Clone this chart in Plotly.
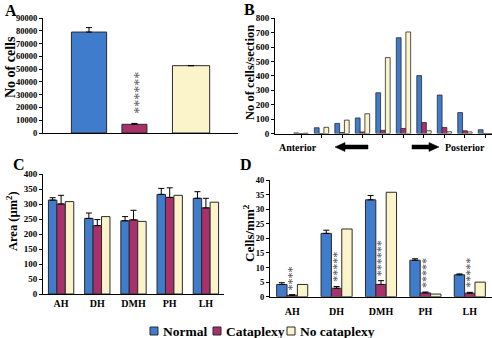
import plotly.graph_objects as go

W, H = 492, 338
FONT = "Liberation Serif"

# ---------------- data ----------------
groups_A = ["Normal", "Cataplexy", "No cataplexy"]
total_cells = [79000, 6800, 52700]
total_err = [3500, 700, 0]

sections_B = ["1", "2", "3", "4", "5", "6", "7", "8", "9", "10"]
normal_B = [4, 40, 70, 108, 283, 665, 402, 267, 145, 26]
cataplexy_B = [0, 0, 7, 11, 22, 35, 76, 42, 19, 0]
nocat_B = [2, 43, 93, 137, 527, 705, 19, 12, 11, 0]

regions = ["AH", "DH", "DMH", "PH", "LH"]
area_normal = [313, 252, 244, 332, 319]
area_normal_err = [8, 18, 14, 20, 22]
area_cat = [300, 228, 247, 322, 287]
area_cat_err = [29, 20, 32, 32, 32]
area_nocat = [308, 258, 242, 329, 306]

dens_normal = [4.2, 21.7, 33.2, 12.5, 7.5]
dens_normal_err = [0.6, 1.1, 1.5, 0.5, 0.3]
dens_cat = [0.5, 2.9, 4.2, 1.3, 1.2]
dens_cat_err = [0.2, 0.6, 1.3, 0.3, 0.3]
dens_nocat = [4.2, 23.2, 35.8, 0.9, 5.0]
dens_stars = [4, 5, 6, 5, 5]

series_names = ["Normal", "Cataplexy", "No cataplexy"]
COLORS = ["#3f7dcc", "#a8316c", "#fbf4cb"]
EDGE = "#2a2a2a"
# legend layout (pixel left edge of each key square)
legend_square_x = [150, 213, 287]


def px_x(p):
    return p / W


def px_y(p):
    return 1 - p / H


fig = go.Figure()

# ---------------- Panel A ----------------
widths_A = [0.69, 0.49, 0.73]
offsets_A = [-0.345, -0.355, -0.365]
fig.add_trace(go.Bar(
    x=[0, 1, 2], y=total_cells, width=widths_A, offset=offsets_A,
    marker=dict(color=COLORS, line=dict(color=EDGE, width=1)),
    error_y=dict(type="data", array=total_err, symmetric=False, arrayminus=[0, 0, 0],
                 color="black", thickness=1, width=3),
    showlegend=False, xaxis="x", yaxis="y", hoverinfo="skip"))

# ---------------- Panel B ----------------
for vals, name, col in zip([normal_B, cataplexy_B, nocat_B], series_names, COLORS):
    fig.add_trace(go.Bar(
        x=sections_B, y=vals, name=name,
        marker=dict(color=col, line=dict(color=EDGE, width=0.8)),
        showlegend=False, xaxis="x2", yaxis="y2", hoverinfo="skip"))

# ---------------- Panel C ----------------
for vals, err, name, col in zip([area_normal, area_cat, area_nocat],
                                [area_normal_err, area_cat_err, None],
                                series_names, COLORS):
    fig.add_trace(go.Bar(
        x=regions, y=vals, name=name,
        marker=dict(color=col, line=dict(color=EDGE, width=1)),
        error_y=(dict(type="data", array=err, symmetric=False, arrayminus=[0] * 5,
                      color="black", thickness=1, width=3) if err else None),
        showlegend=False, xaxis="x3", yaxis="y3", hoverinfo="skip"))

# ---------------- Panel D ----------------
for vals, err, name, col in zip([dens_normal, dens_cat, dens_nocat],
                                [dens_normal_err, dens_cat_err, None],
                                series_names, COLORS):
    fig.add_trace(go.Bar(
        x=regions, y=vals, name=name,
        marker=dict(color=col, line=dict(color=EDGE, width=1)),
        error_y=(dict(type="data", array=err, symmetric=False, arrayminus=[0] * 5,
                      color="black", thickness=1, width=3) if err else None),
        showlegend=False, xaxis="x4", yaxis="y4", hoverinfo="skip"))

tickfont = dict(family=FONT, size=9, color="black", weight="bold")
axis_common = dict(showline=True, linecolor="black", linewidth=1, showgrid=False,
                   zeroline=False, ticks="outside", ticklen=3, tickcolor="black",
                   tickformat="d", tickfont=tickfont, fixedrange=True, automargin=False)
xcommon = dict(showline=True, linecolor="black", linewidth=1, showgrid=False,
               zeroline=False, fixedrange=True, automargin=False)

layout = dict(
    width=W, height=H, margin=dict(l=0, r=0, t=0, b=0, autoexpand=False),
    paper_bgcolor="white", plot_bgcolor="white", showlegend=False,
    barmode="group", bargap=0.3, bargroupgap=0,
    font=dict(family=FONT, color="black"),
    xaxis=dict(domain=[px_x(43), px_x(238)], range=[-0.902, 2.92],
               showticklabels=False, ticks="", anchor="y", **xcommon),
    yaxis=dict(domain=[px_y(133), px_y(18)], range=[0, 90000], dtick=10000,
               anchor="x", **{**axis_common, "tickfont": dict(family=FONT, size=8.5,
                                                              color="black", weight="bold")}),
    xaxis2=dict(domain=[px_x(275), 1.0], range=[-1.27, 9.32], showticklabels=False,
                ticks="outside", ticklen=3, tickcolor="black", anchor="y2", **xcommon),
    yaxis2=dict(domain=[px_y(133.5), px_y(18.3)], range=[0, 800], dtick=100,
                anchor="x2", **axis_common),
    xaxis3=dict(domain=[px_x(43), px_x(224)], ticks="",
                tickfont=dict(family=FONT, size=10, color="black", weight="bold"),
                anchor="y3", **xcommon),
    yaxis3=dict(domain=[px_y(294), px_y(174)], range=[0, 400], dtick=50,
                anchor="x3", **axis_common),
    xaxis4=dict(domain=[px_x(270), 1.0], ticks="", ticklabelstandoff=5,
                tickfont=dict(family=FONT, size=10, color="black", weight="bold"),
                anchor="y4", **xcommon),
    yaxis4=dict(domain=[px_y(296.7), px_y(180)], range=[0, 40], dtick=5,
                anchor="x4", **{**axis_common, "tickfont": dict(family=FONT, size=8.5,
                                                               color="black", weight="bold")}),
)
fig.update_layout(**layout)

ann = []
shapes = []


def label(text, x, y, size, angle=0, xanchor="center"):
    ann.append(dict(text=text, x=px_x(x), y=px_y(y), xref="paper", yref="paper",
                    xanchor=xanchor, yanchor="middle", textangle=angle, showarrow=False,
                    font=dict(family=FONT, size=size, color="black", weight="bold")))


def arrow(tip, tail, yc):
    # thick block arrow drawn in pixel space, converted to paper coords
    d = 1 if tail > tip else -1
    hl, hh, bh = 10, 4.5, 2
    neck = tip + d * hl
    pts = [(tip, yc), (neck, yc - hh), (neck, yc - bh), (tail, yc - bh),
           (tail, yc + bh), (neck, yc + bh), (neck, yc + hh)]
    path = "M " + " L ".join(f"{px_x(x):.5f},{px_y(y):.5f}" for x, y in pts) + " Z"
    shapes.append(dict(type="path", xref="paper", yref="paper", path=path,
                       fillcolor="black", line=dict(color="black", width=0.5)))


# panel letters
for lab, x, y in [("A", 11, 10), ("B", 249, 9), ("C", 19, 164), ("D", 246, 164)]:
    label(lab, x, y, 16)
# axis titles
label("No of cells", 10, 67, 14, -90)
label("No of cells/section", 250, 73, 12.5, -90)
label("Area (µm<sup>2</sup>)", 12, 221, 12.5, -90)
label("Cells/mm<sup>2</sup>", 249, 233, 13, -90)
# anterior / posterior
label("Anterior", 298, 147, 10)
label("Posterior", 465, 147, 10)
arrow(335, 368, 147)
arrow(439, 412, 147)

# legend (key squares + names)
for name, col, sx in zip(series_names, COLORS, legend_square_x):
    shapes.append(dict(type="rect", xref="paper", yref="paper",
                       x0=px_x(sx), x1=px_x(sx + 8), y0=px_y(335), y1=px_y(327),
                       fillcolor=col, line=dict(color=EDGE, width=1)))
    label(name, sx + 11, 331, 13.5, xanchor="left")

# significance stars panel A (above cataplexy bar)
ann.append(dict(text="*" * 6, x=1, y=total_cells[1] + total_err[1] + 24000,
                xref="x", yref="y", xanchor="center", yanchor="middle",
                textangle=-90, showarrow=False,
                font=dict(family=FONT, size=14, color="#555")))
# significance stars panel D
for r, v, e, n in zip(regions, dens_cat, dens_cat_err, dens_stars):
    ann.append(dict(text="*" * n, x=r, y=v + e + 1.5 + n * 1.03, xref="x4", yref="y4",
                    xanchor="center", yanchor="middle",
                    textangle=-90, showarrow=False,
                    font=dict(family=FONT, size=12, color="#555")))

fig.update_layout(annotations=ann, shapes=shapes)
fig.write_html("out.html", config={"displayModeBar": False, "staticPlot": True},
               post_script="document.body.style.margin='0';document.body.style.overflow='hidden';")
